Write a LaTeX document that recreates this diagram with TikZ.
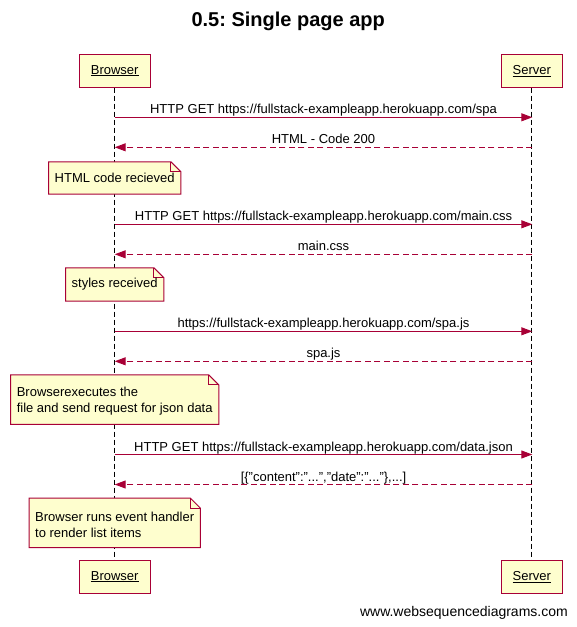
\documentclass[tikz,border=0pt]{standalone}
\usepackage{fontspec}
\setmainfont{Liberation Sans}
\usetikzlibrary{arrows.meta,calc}
\definecolor{wsdred}{HTML}{A80036}
\definecolor{wsdfill}{HTML}{FEFECE}
\pgfdeclarelayer{lines}
\pgfdeclarelayer{notebg}
\pgfsetlayers{lines,notebg,main}
\frenchspacing
\begin{document}
\begin{tikzpicture}[x=1pt,y=-1pt,
  actor/.style={draw=wsdred,fill=wsdfill,line width=1pt,inner xsep=11.5pt,inner ysep=0pt,
    minimum height=33pt,font=\fontsize{13}{15}\selectfont},
  notebox/.style={inner xsep=6pt,inner ysep=0pt,align=left,font=\fontsize{13}{16}\selectfont},
  lifeline/.style={draw=black,line width=1pt,dash pattern=on 5pt off 3pt},
  msg/.style={draw=wsdred,line width=1pt,-{Triangle[length=11pt,width=8pt]}},
  reply/.style={msg,dash pattern=on 6pt off 3.5pt},
  lbl/.style={anchor=base,font=\fontsize{13}{15}\selectfont,inner sep=0pt},
]
\useasboundingbox (0,0) rectangle (577,627);

\node[anchor=base,inner sep=0pt,font=\bfseries\fontsize{20}{24}\selectfont] (title) at (288.2,26) {0.5: Single page app};

\node[actor] (bt) at (114.7,70.7) {\underline{Browser}};
\node[actor] (st) at (531.8,70.7) {\underline{Server}};
\node[actor] (bb) at (114.7,576.7) {\underline{Browser}};
\node[actor] (sb) at (531.8,576.7) {\underline{Server}};

\begin{pgfonlayer}{lines}
\draw[lifeline] (bt.south) -- (bb.north);
\draw[lifeline] (st.south) -- (sb.north);
\end{pgfonlayer}

% message end points
\foreach \n/\y in {1/117.3,2/147.3,3/224.3,4/254.3,5/331.3,6/361.3,7/454.5,8/484.5}{
  \coordinate (b\n) at (114.7,\y);
  \coordinate (s\n) at (532.3,\y);
}

\draw[msg] (b1) -- (s1);
\node[lbl] (l1) at ([yshift=3.5pt]$(b1)!0.5!(s1)$) {HTTP GET https://fullstack-exampleapp.herokuapp.com/spa};
\draw[reply] (s2) -- (b2);
\node[lbl] (l2) at ([yshift=3.5pt]$(b2)!0.5!(s2)$) {HTML - Code 200};

\draw[msg] (b3) -- (s3);
\node[lbl] (l3) at ([yshift=3.5pt]$(b3)!0.5!(s3)$) {HTTP GET https://fullstack-exampleapp.herokuapp.com/main.css};
\draw[reply] (s4) -- (b4);
\node[lbl] (l4) at ([yshift=3.5pt]$(b4)!0.5!(s4)$) {main.css};

\draw[msg] (b5) -- (s5);
\node[lbl] (l5) at ([yshift=3.5pt]$(b5)!0.5!(s5)$) {https://fullstack-exampleapp.herokuapp.com/spa.js};
\draw[reply] (s6) -- (b6);
\node[lbl] (l6) at ([yshift=3.5pt]$(b6)!0.5!(s6)$) {spa.js};

\draw[msg] (b7) -- (s7);
\node[lbl] (l7) at ([yshift=3.5pt]$(b7)!0.5!(s7)$) {HTTP GET https://fullstack-exampleapp.herokuapp.com/data.json};
\draw[reply] (s8) -- (b8);
\node[lbl] (l8) at ([yshift=3.5pt]$(b8)!0.5!(s8)$) {[\{"content":"...","date":"..."\},...]};

% notes: name, box centre, height, text shift, text
\newcommand{\wsdnote}[5]{%
  \node[notebox,minimum height=#3,yshift=-#4] (#1) at #2 {#5};
  \begin{pgfonlayer}{notebg}
  \draw[draw=wsdred,fill=wsdfill,line width=1pt]
    ([yshift=#4]#1.north west) -- ([xshift=-10pt,yshift=#4]#1.north east)
    -- ([yshift=#4-10pt]#1.north east)
    -- ([yshift=#4]#1.south east) -- ([yshift=#4]#1.south west) -- cycle;
  \draw[draw=wsdred,line width=1pt] ([xshift=-10pt,yshift=#4]#1.north east)
    -- ([xshift=-10pt,yshift=#4-10pt]#1.north east) -- ([yshift=#4-10pt]#1.north east);
  \end{pgfonlayer}
}
\wsdnote{n1}{(114.7,178)}{32pt}{0pt}{HTML code recieved}
\wsdnote{n2}{(114.7,284.5)}{33pt}{0pt}{styles received}
\wsdnote{n3}{(114.7,399.6)}{49pt}{1.8pt}{Browserexecutes the\\file and send request for json data}
\wsdnote{n4}{(114.7,522.8)}{49pt}{1.8pt}{Browser runs event handler\\to render list items}

\node[anchor=base east,font=\fontsize{14}{16}\selectfont,inner sep=0pt] (footer) at (568,616) {www.websequencediagrams.com};
\end{tikzpicture}
\end{document}
